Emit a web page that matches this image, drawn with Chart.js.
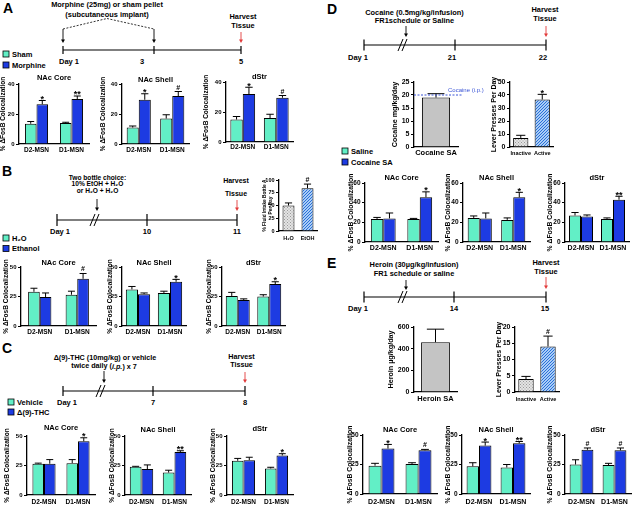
<!DOCTYPE html>
<html><head><meta charset="utf-8">
<script src="https://cdn.jsdelivr.net/npm/chart.js@4.4.1/dist/chart.umd.min.js"></script>
<style>
html,body{margin:0;padding:0;background:#fff;overflow:hidden;}
#fig{position:relative;width:640px;height:506px;overflow:hidden;}
#fig canvas{position:absolute;}
#fig svg{position:absolute;left:0;top:0;}
</style></head><body>
<div id="fig"><svg id="ann" width="640" height="506" xmlns="http://www.w3.org/2000/svg"></svg></div>
<script>
// ================= DATA =================
const groups = ['D2-MSN', 'D1-MSN'];
const yTitleMain = '% ΔFosB Colocalization';

// Panel A: Sham vs Morphine
const A_ticks = [0, 20, 40];
const A_core_sham = [13.5, 14.0],  A_core_sham_err = [1.5, 0.5];
const A_core_morph = [26.5, 30.0], A_core_morph_err = [2.5, 2.0], A_core_sig = ['*', '**'];
const A_shell_sham = [11.0, 17.0],  A_shell_sham_err = [1.0, 2.5];
const A_shell_morph = [29.5, 32.0], A_shell_morph_err = [4.0, 3.0], A_shell_sig = ['*', '#'];
const A_dstr_sham = [15.0, 16.0],  A_dstr_sham_err = [2.0, 2.5];
const A_dstr_morph = [32.0, 29.5], A_dstr_morph_err = [4.5, 1.5], A_dstr_sig = ['*', '#'];

// Panel B: H2O vs Ethanol
const B_ticks = [0, 25, 50];
const B_core_h2o = [29.0, 26.5], B_core_h2o_err = [3.0, 3.0];
const B_core_eth = [24.5, 40.0], B_core_eth_err = [3.5, 4.5], B_core_sig = ['', '#'];
const B_shell_h2o = [31.0, 28.0], B_shell_h2o_err = [2.5, 1.5];
const B_shell_eth = [27.0, 37.5], B_shell_eth_err = [1.0, 2.0], B_shell_sig = ['', '*'];
const B_dstr_h2o = [25.5, 25.0], B_dstr_h2o_err = [3.0, 1.5];
const B_dstr_eth = [22.0, 35.5], B_dstr_eth_err = [1.0, 2.0], B_dstr_sig = ['', '*'];
const B_intake_labels = ['H₂O', 'EtOH'];
const B_intake_vals = [50, 84], B_intake_err = [5, 8], B_intake_sig = ['', '#'];
const B_intake_ticks = [0, 25, 50, 75, 100];

// Panel C: Vehicle vs THC
const C_ticks = [0, 25, 50];
const C_core_veh = [26.5, 27.0], C_core_veh_err = [0.5, 3.0];
const C_core_thc = [26.5, 45.5], C_core_thc_err = [3.5, 3.0], C_core_sig = ['', '*'];
const C_shell_veh = [24.0, 19.0], C_shell_veh_err = [0.3, 2.0];
const C_shell_thc = [22.0, 36.5], C_shell_thc_err = [3.5, 1.0], C_shell_sig = ['', '**'];
const C_dstr_veh = [29.0, 22.5], C_dstr_veh_err = [2.0, 1.0];
const C_dstr_thc = [29.5, 33.5], C_dstr_thc_err = [2.5, 1.5], C_dstr_sig = ['', '*'];

// Panel D: Saline vs Cocaine SA
const D_ticks = [0, 20, 40, 60];
const D_core_sal = [23.5, 23.5], D_core_sal_err = [1.5, 0.5];
const D_core_coc = [24.0, 45.5], D_core_coc_err = [5.5, 5.5], D_core_sig = ['', '*'];
const D_shell_sal = [24.5, 22.5], D_shell_sal_err = [2.0, 2.0];
const D_shell_coc = [24.0, 45.5], D_shell_coc_err = [5.5, 5.0], D_shell_sig = ['', '*'];
const D_dstr_sal = [27.0, 23.5], D_dstr_sal_err = [3.0, 1.0];
const D_dstr_coc = [26.0, 43.0], D_dstr_coc_err = [1.5, 3.5], D_dstr_sig = ['', '**'];
const D_dose_labels = ['Cocaine SA'];
const D_dose_vals = [19], D_dose_err = [1.5], D_dose_ip = 20;
const D_dose_ticks = [0, 5, 10, 15, 20, 25];
const lever_labels = ['Inactive', 'Active'];
const D_lever_vals = [7, 36.5], D_lever_err = [2, 4], D_lever_sig = ['', '*'];
const D_lever_ticks = [0, 10, 20, 30, 40, 50];

// Panel E: Saline vs Heroin SA
const E_ticks = [0, 25, 50];
const E_core_sal = [24.0, 25.5], E_core_sal_err = [2.0, 1.0];
const E_core_her = [38.5, 37.0], E_core_her_err = [3.5, 0.8], E_core_sig = ['*', '#'];
const E_shell_sal = [23.5, 22.5], E_shell_sal_err = [3.0, 2.5];
const E_shell_her = [41.0, 43.0], E_shell_her_err = [3.0, 1.5], E_shell_sig = ['*', '**'];
const E_dstr_sal = [25.0, 24.5], E_dstr_sal_err = [4.0, 1.5];
const E_dstr_her = [37.5, 37.0], E_dstr_her_err = [1.5, 2.0], E_dstr_sig = ['#', '#'];
const E_dose_labels = ['Heroin SA'];
const E_dose_vals = [460], E_dose_err = [120];
const E_dose_ticks = [0, 200, 400, 600];
const E_lever_vals = [4, 14], E_lever_err = [0.8, 3.2], E_lever_sig = ['', '#'];
const E_lever_ticks = [0, 5, 10, 15, 20];

// ================= STYLE / LAYOUT =================
const FONT = '"Liberation Sans", Arial, Helvetica, sans-serif';
const MINT = '#62efc6', BLUE = '#1d3be2';
Chart.defaults.font.family = FONT;
Chart.defaults.font.weight = 'bold';
Chart.defaults.color = '#000';
Chart.defaults.animation = false;
const fig = document.getElementById('fig');

function pattern(bg, fg, size, kind) {
  const c = document.createElement('canvas'); c.width = c.height = size;
  const x = c.getContext('2d');
  x.fillStyle = bg; x.fillRect(0, 0, size, size);
  x.strokeStyle = fg; x.fillStyle = fg; x.lineWidth = 1;
  if (kind === 'dots') { x.fillRect(0, 0, 1, 1); x.fillRect(size/2, size/2, 1, 1); }
  else {
    x.beginPath();
    x.moveTo(0, size); x.lineTo(size, 0);
    x.moveTo(-size/2, size/2); x.lineTo(size/2, -size/2);
    x.moveTo(size/2, size*1.5); x.lineTo(size*1.5, size/2);
    x.stroke();
  }
  return x.createPattern(c, 'repeat');
}
const GRAYDOT = pattern('#e4e4e4', '#9a9a9a', 3, 'dots');
const BLUEHATCH = pattern('#a9cdf6', '#2a6fd8', 3, 'hatch');
const SOLIDGRAY = '#c4c4c4';

const errPlugin = {
  id: 'errbars',
  afterDatasetsDraw(chart) {
    const ctx = chart.ctx, ys = chart.scales.y;
    chart.data.datasets.forEach((ds, i) => {
      const meta = chart.getDatasetMeta(i);
      meta.data.forEach((bar, j) => {
        const v = ds.data[j]; const e = ds.err ? ds.err[j] : 0;
        const yv = ys.getPixelForValue(v), ye = ys.getPixelForValue(v + e);
        const w = bar.width * 0.6;
        ctx.save();
        ctx.strokeStyle = '#000'; ctx.lineWidth = 1;
        ctx.beginPath();
        ctx.moveTo(bar.x, yv); ctx.lineTo(bar.x, ye);
        ctx.moveTo(bar.x - w/2, ye); ctx.lineTo(bar.x + w/2, ye);
        ctx.stroke();
        const s = ds.sig ? ds.sig[j] : '';
        if (s) {
          ctx.fillStyle = '#000'; ctx.textAlign = 'center'; ctx.textBaseline = 'alphabetic';
          if (s[0] === '*') { const fs = 9; ctx.font = 'bold ' + fs + 'px ' + FONT; ctx.fillText(s, bar.x, ye - 2 + 0.38*fs); }
          else { const fs = 7; ctx.font = 'bold ' + fs + 'px ' + FONT; ctx.fillText(s, bar.x, ye - 2); }
        }
        ctx.restore();
      });
    });
  }
};

const refLine = {
  id: 'refLine',
  afterDatasetsDraw(chart, args, o) {
    if (!o || o.value == null) return;
    const ctx = chart.ctx, y = chart.scales.y.getPixelForValue(o.value), a = chart.chartArea;
    ctx.save();
    ctx.strokeStyle = o.color; ctx.lineWidth = 1; ctx.setLineDash([2, 1.5]);
    ctx.beginPath(); ctx.moveTo(a.left, y); ctx.lineTo(a.right + o.extend, y); ctx.stroke();
    ctx.setLineDash([]);
    ctx.fillStyle = o.color; ctx.font = 'normal 6px ' + FONT; ctx.textAlign = 'left'; ctx.textBaseline = 'alphabetic';
    ctx.fillText(o.text, a.left + o.textDx, y - 3);
    ctx.restore();
  }
};

function barChart(lay, cfg) {
  const f = Object.assign({ title: 7.5, xlab: 6.5, ytick: 6, ytitle: 6.5 }, cfg.fonts || {});
  const ytl = f.ytitle * 1.2;
  const canvasLeft = Math.floor(lay.ytX - ytl/2) - 1;
  const ytPad = lay.ytX - ytl/2 - canvasLeft;
  const Wy = lay.axisX - canvasLeft;
  const R = cfg.padR || 7;
  const W = Math.ceil(lay.plotR + R - canvasLeft);
  let canvasTop, padTop;
  if (cfg.title) { canvasTop = Math.floor(lay.titleY - f.title/2) - 4; padTop = lay.titleY - f.title/2 - canvasTop; }
  else { canvasTop = lay.yTop - 9; padTop = 9; }
  const pb = cfg.title ? Math.max(0, lay.yTop - canvasTop - padTop - f.title) : 0;
  const xPad = Math.max(0, lay.xlabY - lay.yZero - f.xlab/2);
  const Hx = Math.ceil(lay.xlabY - lay.yZero + f.xlab/2 + 2);
  const H = Math.ceil(lay.yZero + Hx - canvasTop);
  const cv = document.createElement('canvas');
  cv.width = W; cv.height = H;
  cv.style.left = canvasLeft + 'px'; cv.style.top = canvasTop + 'px';
  cv.style.width = W + 'px'; cv.style.height = H + 'px';
  fig.appendChild(cv);
  const t = cfg.ticks;
  return new Chart(cv, {
    type: 'bar',
    data: {
      labels: cfg.labels,
      datasets: cfg.sets.map(s => ({
        label: s.label, data: s.data, err: s.err, sig: s.sig,
        backgroundColor: s.color, borderColor: '#000', borderWidth: 1,
        categoryPercentage: cfg.pct, barPercentage: 1
      }))
    },
    options: {
      responsive: false, maintainAspectRatio: false, animation: false, devicePixelRatio: 1,
      events: [],
      layout: { padding: { left: 0, right: R, top: padTop, bottom: 0 } },
      plugins: {
        legend: { display: false }, tooltip: { enabled: false },
        title: cfg.title ? { display: true, text: cfg.title, fullSize: false, color: '#000',
          font: { size: f.title, weight: 'bold', lineHeight: 1 }, padding: { top: 0, bottom: pb } } : { display: false },
        refLine: cfg.ref || {}
      },
      scales: {
        x: {
          grid: { display: false, drawTicks: false },
          border: { display: true, color: '#000', width: 1.3 },
          ticks: { color: '#000', font: { size: f.xlab, weight: 'bold', lineHeight: 1 }, padding: xPad, maxRotation: 0, autoSkip: false },
          afterFit(s) { s.height = Hx; }
        },
        y: {
          min: t[0], max: t[t.length - 1],
          afterBuildTicks(s) { s.ticks = t.map(v => ({ value: v })); },
          ticks: { color: '#000', font: { size: f.ytick, weight: 'bold' }, padding: 1.5, autoSkip: false },
          grid: { display: true, drawOnChartArea: false, drawTicks: true, tickLength: 3, color: '#000', lineWidth: 1 },
          border: { display: true, color: '#000', width: 1.3 },
          title: { display: true, text: cfg.ytitle, color: '#000', font: { size: f.ytitle, weight: 'bold', lineHeight: 1.2 }, padding: { top: ytPad, bottom: 0 } },
          afterFit(s) { s.width = Wy; }
        }
      }
    },
    plugins: [errPlugin, refLine]
  });
}

function pair(lay, title, ticks, c, ce, d, de, sig, fonts) {
  return barChart(lay, {
    title, ticks, labels: groups, ytitle: yTitleMain, pct: lay.pct, fonts,
    sets: [
      { label: 'control', data: c, err: ce, color: MINT },
      { label: 'drug', data: d, err: de, sig: sig, color: BLUE }
    ]
  });
}

// layouts (pixel placement only)
const LAY = {
  A_core:  { axisX: 19,  plotR: 89,  yTop: 84,  yZero: 144, titleY: 78,   xlabY: 150, ytX: 3.5, pct: 0.66 },
  A_shell: { axisX: 122, plotR: 189, yTop: 84,  yZero: 144, titleY: 79.5, xlabY: 150, ytX: 103, pct: 0.72 },
  A_dstr:  { axisX: 226, plotR: 293, yTop: 82,  yZero: 142, titleY: 77,   xlabY: 147, ytX: 206, pct: 0.74 },
  B_core:  { axisX: 21,  plotR: 96,  yTop: 267, yZero: 326, titleY: 262.5, xlabY: 332, ytX: 6,  pct: 0.62 },
  B_shell: { axisX: 122, plotR: 186, yTop: 267, yZero: 326, titleY: 262.5, xlabY: 332, ytX: 110, pct: 0.76 },
  B_dstr:  { axisX: 222, plotR: 285, yTop: 267, yZero: 326, titleY: 262.5, xlabY: 332, ytX: 209, pct: 0.76 },
  C_core:  { axisX: 27,  plotR: 95,  yTop: 436, yZero: 495, titleY: 428,  xlabY: 502, ytX: 7,   pct: 0.68 },
  C_shell: { axisX: 125, plotR: 191, yTop: 436, yZero: 495, titleY: 430,  xlabY: 502, ytX: 112, pct: 0.71 },
  C_dstr:  { axisX: 227, plotR: 293, yTop: 436, yZero: 495, titleY: 428.5, xlabY: 502, ytX: 213, pct: 0.70 },
  D_core:  { axisX: 365, plotR: 438, yTop: 183, yZero: 242, titleY: 177.5, xlabY: 248, ytX: 351, pct: 0.68 },
  D_shell: { axisX: 463, plotR: 530, yTop: 183, yZero: 242, titleY: 177.5, xlabY: 248, ytX: 448, pct: 0.72 },
  D_dstr:  { axisX: 565, plotR: 629, yTop: 183, yZero: 242, titleY: 177.5, xlabY: 248, ytX: 550, pct: 0.75 },
  E_core:  { axisX: 363, plotR: 437, yTop: 435, yZero: 494, titleY: 429.5, xlabY: 502, ytX: 350, pct: 0.70 },
  E_shell: { axisX: 462, plotR: 530, yTop: 435, yZero: 494, titleY: 429.5, xlabY: 502, ytX: 448, pct: 0.73 },
  E_dstr:  { axisX: 565, plotR: 631, yTop: 435, yZero: 494, titleY: 429.5, xlabY: 502, ytX: 550, pct: 0.72 },
  B_in:    { axisX: 279, plotR: 317, yTop: 180, yZero: 231, xlabY: 238, ytX: 264.5, pct: 0.63 },
  D_dose:  { axisX: 414, plotR: 458, yTop: 82,  yZero: 147, xlabY: 153, ytX: 395.5, pct: 0.64 },
  D_lev:   { axisX: 510, plotR: 553, yTop: 82,  yZero: 147, xlabY: 153, ytX: 494, pct: 0.71 },
  E_dose:  { axisX: 414, plotR: 457, yTop: 327, yZero: 392, xlabY: 399, ytX: 391, pct: 0.67 },
  E_lev:   { axisX: 515, plotR: 559, yTop: 327, yZero: 392, xlabY: 399, ytX: 499, pct: 0.70 }
};

// main charts
pair(LAY.A_core, 'NAc Core', A_ticks, A_core_sham, A_core_sham_err, A_core_morph, A_core_morph_err, A_core_sig);
pair(LAY.A_shell, 'NAc Shell', A_ticks, A_shell_sham, A_shell_sham_err, A_shell_morph, A_shell_morph_err, A_shell_sig);
pair(LAY.A_dstr, 'dStr', A_ticks, A_dstr_sham, A_dstr_sham_err, A_dstr_morph, A_dstr_morph_err, A_dstr_sig);
pair(LAY.B_core, 'NAc Core', B_ticks, B_core_h2o, B_core_h2o_err, B_core_eth, B_core_eth_err, B_core_sig);
pair(LAY.B_shell, 'NAc Shell', B_ticks, B_shell_h2o, B_shell_h2o_err, B_shell_eth, B_shell_eth_err, B_shell_sig);
pair(LAY.B_dstr, 'dStr', B_ticks, B_dstr_h2o, B_dstr_h2o_err, B_dstr_eth, B_dstr_eth_err, B_dstr_sig);
pair(LAY.C_core, 'NAc Core', C_ticks, C_core_veh, C_core_veh_err, C_core_thc, C_core_thc_err, C_core_sig);
pair(LAY.C_shell, 'NAc Shell', C_ticks, C_shell_veh, C_shell_veh_err, C_shell_thc, C_shell_thc_err, C_shell_sig);
pair(LAY.C_dstr, 'dStr', C_ticks, C_dstr_veh, C_dstr_veh_err, C_dstr_thc, C_dstr_thc_err, C_dstr_sig);
const bigF = { title: 7.5, xlab: 7, ytick: 6.5, ytitle: 6.8 };
pair(LAY.D_core, 'NAc Core', D_ticks, D_core_sal, D_core_sal_err, D_core_coc, D_core_coc_err, D_core_sig, bigF);
pair(LAY.D_shell, 'NAc Shell', D_ticks, D_shell_sal, D_shell_sal_err, D_shell_coc, D_shell_coc_err, D_shell_sig, bigF);
pair(LAY.D_dstr, 'dStr', D_ticks, D_dstr_sal, D_dstr_sal_err, D_dstr_coc, D_dstr_coc_err, D_dstr_sig, bigF);
pair(LAY.E_core, 'NAc Core', E_ticks, E_core_sal, E_core_sal_err, E_core_her, E_core_her_err, E_core_sig, bigF);
pair(LAY.E_shell, 'NAc Shell', E_ticks, E_shell_sal, E_shell_sal_err, E_shell_her, E_shell_her_err, E_shell_sig, bigF);
pair(LAY.E_dstr, 'dStr', E_ticks, E_dstr_sal, E_dstr_sal_err, E_dstr_her, E_dstr_her_err, E_dstr_sig, bigF);

// insets
barChart(LAY.B_in, { ticks: B_intake_ticks, labels: B_intake_labels, pct: LAY.B_in.pct,
  ytitle: ['% Fluid Intake Bottle A', 'Per Day'], fonts: { xlab: 5.5, ytick: 5.5, ytitle: 4.8 },
  sets: [{ label: 'intake', data: B_intake_vals, err: B_intake_err, sig: B_intake_sig, color: [GRAYDOT, BLUEHATCH] }] });
barChart(LAY.D_dose, { ticks: D_dose_ticks, labels: D_dose_labels, pct: LAY.D_dose.pct, padR: 34,
  ytitle: 'Cocaine mg/kg/day', fonts: { xlab: 7.5, ytick: 7, ytitle: 7.2 },
  ref: { value: D_dose_ip, color: '#3b55d6', extend: 5, text: 'Cocaine (i.p.)', textDx: 34 },
  sets: [{ label: 'dose', data: D_dose_vals, err: D_dose_err, color: SOLIDGRAY }] });
barChart(LAY.D_lev, { ticks: D_lever_ticks, labels: lever_labels, pct: LAY.D_lev.pct,
  ytitle: 'Lever Presses Per Day', fonts: { xlab: 5.5, ytick: 7, ytitle: 7 },
  sets: [{ label: 'lever', data: D_lever_vals, err: D_lever_err, sig: D_lever_sig, color: [GRAYDOT, BLUEHATCH] }] });
barChart(LAY.E_dose, { ticks: E_dose_ticks, labels: E_dose_labels, pct: LAY.E_dose.pct,
  ytitle: 'Heroin µg/kg/day', fonts: { xlab: 7.5, ytick: 7, ytitle: 7.2 },
  sets: [{ label: 'dose', data: E_dose_vals, err: E_dose_err, color: SOLIDGRAY }] });
barChart(LAY.E_lev, { ticks: E_lever_ticks, labels: lever_labels, pct: LAY.E_lev.pct,
  ytitle: 'Lever Presses Per Day', fonts: { xlab: 5.5, ytick: 7, ytitle: 7 },
  sets: [{ label: 'lever', data: E_lever_vals, err: E_lever_err, sig: E_lever_sig, color: [GRAYDOT, BLUEHATCH] }] });

// ================= ANNOTATIONS (timelines, legends, letters) =================
const svg = document.getElementById('ann');
const NS = 'http://www.w3.org/2000/svg';
function el(tag, attrs, text) {
  const e = document.createElementNS(NS, tag);
  for (const k in attrs) e.setAttribute(k, attrs[k]);
  if (text != null) e.textContent = text;
  svg.appendChild(e); return e;
}
function txt(x, y, s, size, o = {}) {
  return el('text', { x, y, 'font-size': size, 'font-family': FONT, 'font-weight': o.weight || 'bold',
    'text-anchor': o.anchor || 'middle', 'dominant-baseline': 'central', fill: o.color || '#000' }, s);
}
function ln(x1, y1, x2, y2, o = {}) {
  return el('line', { x1, y1, x2, y2, stroke: o.color || '#000', 'stroke-width': o.w || 1, 'stroke-dasharray': o.dash || 'none' });
}
function arrow(x, y1, y2, color = '#000') {
  ln(x, y1, x, y2 - 2, { color, w: 0.9 });
  el('path', { d: `M${x - 2},${y2 - 3.5} L${x + 2},${y2 - 3.5} L${x},${y2} Z`, fill: color });
}
function timeline(y, ticks, halfTick, brk) {
  ln(ticks[0], y, ticks[ticks.length - 1], y, { w: 1.2 });
  ticks.forEach(x => ln(x, y - halfTick, x, y + halfTick, { w: 1.2 }));
  if (brk != null) {
    ln(brk - 5, y + 6, brk, y - 6, { w: 1 });
    ln(brk - 1, y + 6, brk + 4, y - 6, { w: 1 });
  }
}
function legendItem(x, y, color, label) {
  el('rect', { x, y: y - 3, width: 6, height: 6, fill: color, stroke: '#000', 'stroke-width': 0.8 });
  txt(x + 9, y, label, 7.5, { anchor: 'start' });
}
const RED = '#e23a3a';

// Panel letters
txt(3, 8, 'A', 14, { anchor: 'start' });
txt(2, 171, 'B', 14, { anchor: 'start' });
txt(2, 347.5, 'C', 14, { anchor: 'start' });
txt(327, 8.5, 'D', 14, { anchor: 'start' });
txt(327, 262.5, 'E', 14, { anchor: 'start' });

// A timeline
txt(107, 4.5, 'Morphine (25mg) or sham pellet', 7.4);
txt(107, 14, '(subcutaneous implant)', 7.4);
ln(63, 29, 107, 18.5, { dash: '2,1.5', w: 0.8 });
ln(107, 18.5, 154, 29, { dash: '2,1.5', w: 0.8 });
arrow(63, 29, 43); arrow(154, 29, 43);
timeline(50, [63, 154, 241], 4, null);
txt(69, 61, 'Day 1', 7.5); txt(142, 61, '3', 7.5); txt(241, 61, '5', 7.5);
txt(243, 16.5, 'Harvest', 7.4); txt(243, 25.5, 'Tissue', 7.4);
arrow(241, 32, 43, RED);
legendItem(3, 54, MINT, 'Sham'); legendItem(3, 65, BLUE, 'Morphine');

// B timeline
txt(97.5, 177, 'Two bottle choice:', 6.6);
txt(97.5, 183.8, '10% EtOH + H₂O', 6.6);
txt(97.5, 190.5, 'or H₂O + H₂O', 6.6);
arrow(97, 199, 211);
timeline(220, [57, 147, 237], 6, 95);
txt(60, 231, 'Day 1', 7.5); txt(147, 231, '10', 7.5); txt(237, 231, '11', 7.5);
txt(236, 180.5, 'Harvest', 7); txt(236, 193, 'Tissue', 7);
arrow(237, 200, 211, RED);
legendItem(3, 238, MINT, 'H₂O'); legendItem(3, 248.5, BLUE, 'Ethanol');

// C timeline
txt(105, 357, 'Δ(9)-THC (10mg/kg) or vehicle', 7.2);
const tw = txt(104, 365.5, 'twice daily (', 7.2);
const it = document.createElementNS(NS, 'tspan'); it.setAttribute('font-style', 'italic'); it.textContent = 'i.p.'; tw.appendChild(it);
const rest = document.createElementNS(NS, 'tspan'); rest.textContent = ') x 7'; tw.appendChild(rest);
arrow(104, 371, 383);
timeline(391, [63, 153, 245], 5, 101);
txt(67, 402, 'Day 1', 7.5); txt(153, 402, '7', 7.5); txt(245, 402, '8', 7.5);
txt(241.5, 356, 'Harvest', 7.2); txt(241.5, 364.5, 'Tissue', 7.2);
arrow(245, 372, 383, RED);
legendItem(8, 402, MINT, 'Vehicle'); legendItem(8, 412, BLUE, 'Δ(9)-THC');

// D timeline
txt(414.5, 12, 'Cocaine (0.5mg/kg/infusion)', 7.4);
txt(414.5, 20, 'FR1schedule or Saline', 7.4);
arrow(406, 26, 37);
timeline(45, [364, 455, 546], 5.5, 403);
txt(358, 57, 'Day 1', 7.5); txt(452, 57, '21', 7.5); txt(543, 57, '22', 7.5);
txt(545, 9.5, 'Harvest', 7.4); txt(545, 18, 'Tissue', 7.4);
arrow(546, 26, 37, RED);
legendItem(342, 151, MINT, 'Saline'); legendItem(342, 162, BLUE, 'Cocaine SA');

// E timeline
txt(414, 264.5, 'Heroin (30µg/kg/infusion)', 7.4);
txt(414, 273, 'FR1 schedule or saline', 7.4);
arrow(406, 280, 290);
timeline(297, [364, 454, 546], 5.5, 403);
txt(358, 308, 'Day 1', 7.5); txt(454, 308, '14', 7.5); txt(545, 308, '15', 7.5);
txt(546, 262, 'Harvest', 7.4); txt(546, 271, 'Tissue', 7.4);
arrow(546, 277, 289, RED);
</script>
</body></html>
